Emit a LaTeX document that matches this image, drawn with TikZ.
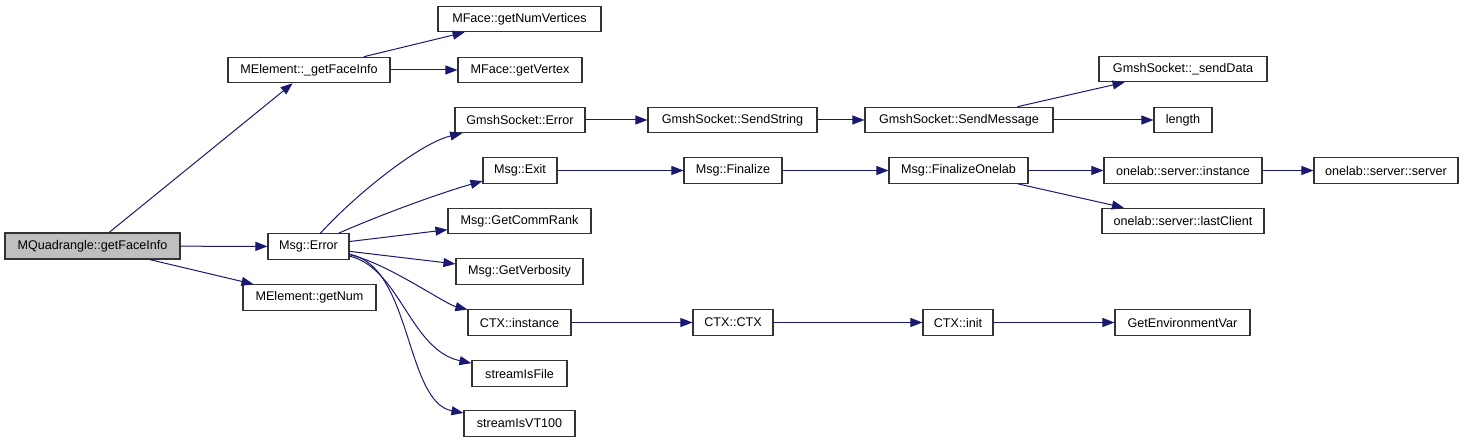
\documentclass[tikz,border=0pt]{standalone}
\usepackage{fontspec}
\setmainfont{Liberation Sans}
\usetikzlibrary{arrows.meta}
\definecolor{edgeblue}{HTML}{191970}
\definecolor{rootfill}{HTML}{BFBFBF}
\tikzset{
  fn/.style={draw=black!80, line width=1.1pt, fill=white, inner sep=0pt,
    minimum height=25.5pt, font=\fontsize{12.6}{15}\selectfont},
  rootfn/.style={fn, fill=rootfill},
  call/.style={draw=edgeblue, line width=1pt,
    -{Triangle[length=12pt,width=9pt]}, fill=none},
}
\begin{document}
\begin{tikzpicture}[x=1pt,y=-1pt]
\useasboundingbox (0,0) rectangle (1464,443);
% nodes
\node[rootfn, minimum width=175pt, minimum height=26pt] (root) at (92.5,246) {MQuadrangle::getFaceInfo};
\node[fn, minimum width=81pt] (err) at (308.5,246.5) {Msg::Error};
\node[fn, minimum width=133pt] (getnum) at (309.5,297.5) {MElement::getNum};
\node[fn, minimum width=162pt] (gfi) at (309,70) {MElement::\_getFaceInfo};
\node[fn, minimum width=163pt] (nv) at (519.5,19) {MFace::getNumVertices};
\node[fn, minimum width=124pt] (gv) at (520,70) {MFace::getVertex};
\node[fn, minimum width=130pt] (gse) at (520,120) {GmshSocket::Error};
\node[fn, minimum width=74pt] (exit) at (520,170.5) {Msg::Exit};
\node[fn, minimum width=143pt] (comm) at (519.5,221) {Msg::GetCommRank};
\node[fn, minimum width=127pt] (verb) at (519.5,271.5) {Msg::GetVerbosity};
\node[fn, minimum width=103pt] (ctxi) at (519.5,322.5) {CTX::instance};
\node[fn, minimum width=95pt] (sif) at (519.5,373.5) {streamIsFile};
\node[fn, minimum width=111pt] (svt) at (519.5,423.5) {streamIsVT100};
\node[fn, minimum width=169pt] (ss) at (732.5,120) {GmshSocket::SendString};
\node[fn, minimum width=188pt] (sm) at (959,120) {GmshSocket::SendMessage};
\node[fn, minimum width=98pt] (fin) at (733,170.5) {Msg::Finalize};
\node[fn, minimum width=139pt] (fo) at (958.5,170.5) {Msg::FinalizeOnelab};
\node[fn, minimum width=168pt] (sd) at (1183,69) {GmshSocket::\_sendData};
\node[fn, minimum width=58pt] (len) at (1183,120) {length};
\node[fn, minimum width=158pt] (osi) at (1183,170.5) {onelab::server::instance};
\node[fn, minimum width=144pt] (oss) at (1386,170.5) {onelab::server::server};
\node[fn, minimum width=162pt] (olc) at (1183,221) {onelab::server::lastClient};
\node[fn, minimum width=80pt] (ctx) at (733,322.5) {CTX::CTX};
\node[fn, minimum width=70pt] (init) at (958,322.5) {CTX::init};
\node[fn, minimum width=135pt] (gev) at (1182.5,322.5) {GetEnvironmentVar};
% edges
\draw[call] (root) -- (gfi);
\draw[call] (root) -- (err);
\draw[call] (root) -- (getnum);
\draw[call] (gfi) -- (nv);
\draw[call] (gfi) -- (gv);
\draw[call] (err) .. controls (355,195) and (420,143) .. (gse);
\draw[call] (err) .. controls (380,215) and (440,193) .. (exit);
\draw[call] (err) -- (comm);
\draw[call] (err) -- (verb);
\draw[call] (err) .. controls (385,262) and (445,304) .. (ctxi);
\draw[call] (err) .. controls (400,268) and (410,350) .. (sif);
\draw[call] (err) .. controls (412,266) and (405,402) .. (svt);
\draw[call] (gse) -- (ss);
\draw[call] (ss) -- (sm);
\draw[call] (sm) -- (sd);
\draw[call] (sm) -- (len);
\draw[call] (exit) -- (fin);
\draw[call] (fin) -- (fo);
\draw[call] (fo) -- (osi);
\draw[call] (fo) -- (olc);
\draw[call] (osi) -- (oss);
\draw[call] (ctxi) -- (ctx);
\draw[call] (ctx) -- (init);
\draw[call] (init) -- (gev);
\end{tikzpicture}
\end{document}
